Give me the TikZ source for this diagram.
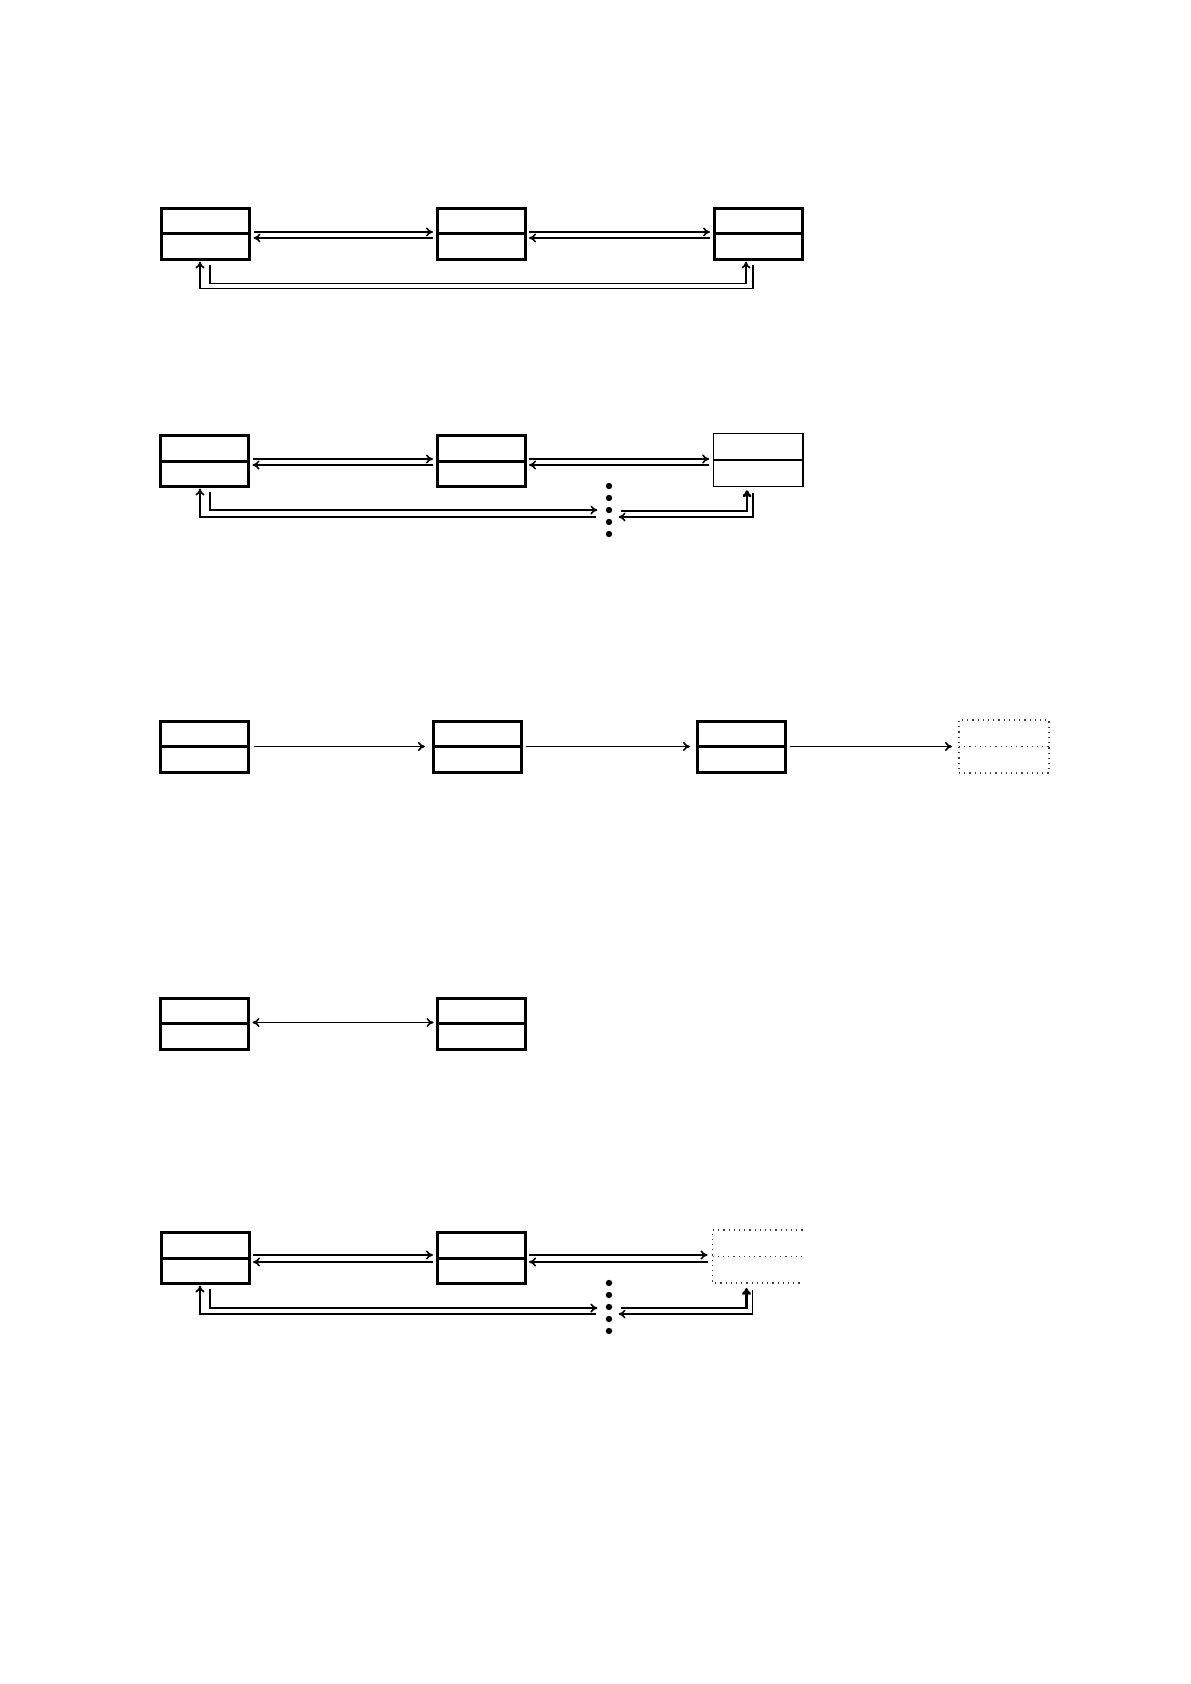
\documentclass[tikz,border=0pt]{standalone}
\usetikzlibrary{calc,arrows.meta}
\begin{document}
\begin{tikzpicture}[x=0.5pt,y=-0.5pt,
  >={To[length=3.5pt,width=4.5pt]},
  box/.style={draw,line width=1.5pt,minimum width=44pt,minimum height=25.5pt,inner sep=0pt,outer sep=0pt,
    path picture={\draw[line width=1.5pt] (path picture bounding box.west)--(path picture bounding box.east);}},
  thinbox/.style={draw,line width=0.7pt,minimum width=44.8pt,minimum height=26.3pt,inner sep=0pt,outer sep=0pt,
    path picture={\draw[line width=0.8pt] (path picture bounding box.west)--(path picture bounding box.east);}},
  ghost/.style={minimum width=45pt,minimum height=26.5pt,inner sep=0pt,outer sep=0pt},
  dotline/.style={draw=black!75,line width=0.6pt,dotted},
  conn/.style={line width=0.8pt},
  thickconn/.style={line width=1.4pt},
  dotnode/.style={circle,fill,inner sep=0pt,minimum size=3.2pt}]
\useasboundingbox (0,0) rectangle (1190,1684);

% ---------- Row 1 ----------
\node[box] (a1) at (205.5,234) {};
\node[box] (b1) at (481,234) {};
\node[box] (c1) at (758,234) {};
\draw[conn,->] ($(a1.east)+(4,-2)$) -- ($(b1.west)+(-4,-2)$);
\draw[conn,->] ($(b1.west)+(-4,4)$) -- ($(a1.east)+(4,4)$);
\draw[conn,->] ($(b1.east)+(4,-2)$) -- ($(c1.west)+(-4,-2)$);
\draw[conn,->] ($(c1.west)+(-4,4)$) -- ($(b1.east)+(4,4)$);
\draw[conn,->] ($(c1.south)+(-5,6)$) -- ++(0,23) -| ($(a1.south)+(-5.5,2)$);
\draw[conn,->] ($(a1.south)+(4.5,6)$) -- ++(0,18) -| ($(c1.south)+(-12,2)$);

% ---------- Row 2 ----------
\node[box] (a2) at (204.5,461) {};
\node[box] (b2) at (481,461) {};
\node[thinbox] (c2) at (758,460) {};
\draw[conn,->] ($(a2.east)+(4,-2)$) -- ($(b2.west)+(-4,-2)$);
\draw[conn,->] ($(b2.west)+(-4,4)$) -- ($(a2.east)+(4,4)$);
\draw[conn,->] ($(b2.east)+(4,-2)$) -- ($(c2.west)+(-4,-1)$);
\draw[conn,->] ($(c2.west)+(-4,5)$) -- ($(b2.east)+(4,4)$);
\node[dotnode] (d21) at (609,486) {};
\node[dotnode] (d22) at (609,498) {};
\node[dotnode] (d23) at (609,510) {};
\node[dotnode] (d24) at (609,522) {};
\node[dotnode] (d25) at (609,534) {};
\draw[conn,->] ($(a2.south)+(5.5,5)$) |- ($(d23.west)+(-8,0)$);
\draw[conn] ($(d23.west)+(-9,7)$) -| ($(a2.south)+(-4.5,8)$);
\draw[conn,->] ($(a2.south)+(-4.5,8)$) -- ($(a2.south)+(-4.5,2)$);
\draw[thickconn,->] ($(d23.east)+(8,1)$) -| ($(c2.south)+(-11,4)$);
\draw[conn,->] ($(c2.south)+(-5,7)$) |- ($(d23.east)+(6,7)$);

% ---------- Row 3 ----------
\node[box] (a3) at (204.5,746.5) {};
\node[box] (b3) at (477,746.5) {};
\node[box] (c3) at (741,746.5) {};
\node[ghost,dotline] (d3) at (1004,746.5) {};
\draw[dotline] (d3.west) -- (d3.east);
\draw[conn,->] ($(a3.east)+(5,0)$) -- ($(b3.west)+(-8,0)$);
\draw[conn,->] ($(b3.east)+(5,0)$) -- ($(c3.west)+(-7,0)$);
\draw[conn,->] ($(c3.east)+(5,0)$) -- ($(d3.west)+(-7,0)$);

% ---------- Row 4 ----------
\node[box] (a4) at (204.5,1023.5) {};
\node[box] (b4) at (481.5,1023.5) {};
\draw[conn,<->] ($(a4.east)+(4,-1)$) -- ($(b4.west)+(-4,-1)$);

% ---------- Row 5 ----------
\node[box] (a5) at (205,1258) {};
\node[box] (b5) at (481,1258) {};
\node[ghost] (c5) at (757.5,1256.5) {};
\draw[dotline] (c5.north east) -- (c5.north west) -- (c5.south west) -- (c5.south east);
\draw[dotline] (c5.west) -- (c5.east);
\draw[conn,->] ($(a5.east)+(4,-3)$) -- ($(b5.west)+(-4,-3)$);
\draw[conn,->] ($(b5.west)+(-4,4)$) -- ($(a5.east)+(4,4)$);
\draw[conn,->] ($(b5.east)+(4,-3)$) -- ($(c5.west)+(-5,-1.5)$);
\draw[conn,->] ($(c5.west)+(-5,5.5)$) -- ($(b5.east)+(4,4)$);
\node[dotnode] (d51) at (609,1283) {};
\node[dotnode] (d52) at (609,1295) {};
\node[dotnode] (d53) at (609,1307) {};
\node[dotnode] (d54) at (609,1319) {};
\node[dotnode] (d55) at (609,1331) {};
\draw[conn,->] ($(a5.south)+(5,5)$) |- ($(d53.west)+(-8,1)$);
\draw[conn] ($(d53.west)+(-9,7)$) -| ($(a5.south)+(-5,8)$);
\draw[conn,->] ($(a5.south)+(-5,8)$) -- ($(a5.south)+(-5,2)$);
\draw[thickconn,->] ($(d53.east)+(8,1)$) -| ($(c5.south)+(-11,5)$);
\draw[conn,->] ($(c5.south)+(-5,7)$) |- ($(d53.east)+(6,7)$);
\end{tikzpicture}
\end{document}
